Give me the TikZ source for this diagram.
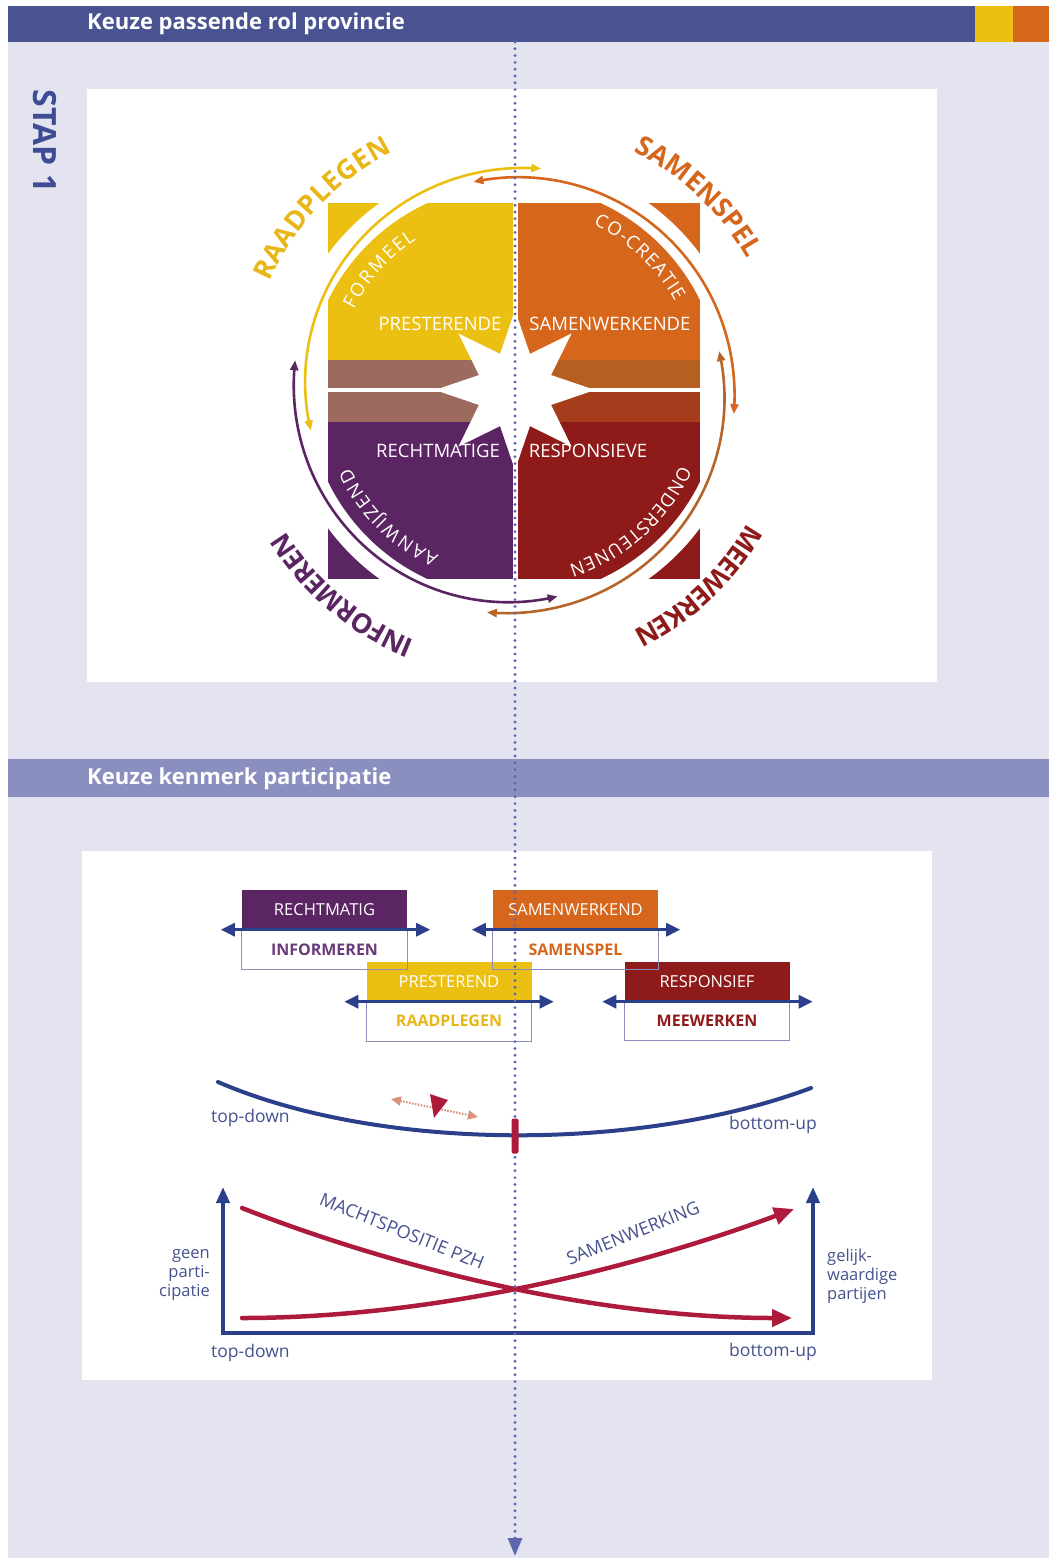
\documentclass[tikz,border=0pt]{standalone}
\usepackage{fontspec}
\setmainfont{Open Sans}
\usetikzlibrary{arrows.meta,shapes.geometric,decorations.text}
\definecolor{hdr}{HTML}{4A5392}
\definecolor{hdrtwo}{HTML}{8A8FC0}
\definecolor{lav}{HTML}{E4E4F1}
\definecolor{yc}{HTML}{ECC013}
\definecolor{ytxt}{HTML}{E8B717}
\definecolor{oc}{HTML}{D5661C}
\definecolor{pc}{HTML}{5B2563}
\definecolor{rc}{HTML}{8E1B1A}
\definecolor{bandl}{HTML}{9C6B5E}
\definecolor{bandru}{HTML}{B55F20}
\definecolor{bandrl}{HTML}{A53C1B}
\definecolor{brc}{HTML}{B5652A}
\definecolor{dotc}{HTML}{5E68AF}
\definecolor{navy}{HTML}{2B3F8A}
\definecolor{crim}{HTML}{AE1A3C}
\definecolor{lbl}{HTML}{45528F}
\definecolor{salm}{HTML}{D9917E}
\definecolor{boxline}{HTML}{8A8FC0}
\definecolor{infc}{HTML}{6B3A7A}
\definecolor{stapc}{HTML}{3D4C95}
\newcommand\arclabel[5]{%
  \path[decorate, decoration={text effects along path, text={#5},
     text effects/.cd, text along path, fit text to path, characters={inner sep=0pt, #4}}]
     ([shift={(514,-391)}]#2:#1) arc[start angle=#2, end angle=#3, radius=#1];}
\begin{document}
\begin{tikzpicture}[x=1pt,y=1pt,
  hdrtext/.style={text=white, font=\bfseries\fontsize{22}{22}\selectfont, anchor=west, inner sep=0pt},
  quadlbl/.style={text=white, font=\fontsize{18.5}{18.5}\selectfont, inner sep=0pt},
  arcarrow/.style={line width=2.6pt, {Triangle[length=10pt,width=8pt]}-{Triangle[length=10pt,width=8pt]}},
  topbox/.style={minimum width=165pt, minimum height=40pt, inner sep=0pt, text=white, font=\fontsize{16.5}{16.5}\selectfont},
  lowbox/.style={minimum width=165pt, minimum height=40pt, inner sep=0pt, fill=white, font=\bfseries\fontsize{16}{16}\selectfont},
  boxarrow/.style={navy, line width=3pt, {Triangle[length=14pt,width=13pt]}-{Triangle[length=14pt,width=13pt]}},
  axislbl/.style={text=lbl, font=\fontsize{17.5}{17.5}\selectfont, inner sep=0pt},
  sidelbl/.style={text=lbl, font=\fontsize{16.5}{19}\selectfont, inner sep=0pt},
  curvelbl/.style={text=lbl, font=\fontsize{18}{18}\selectfont, inner sep=0pt},
  redcurve/.style={crim, line width=4.5pt, line cap=round, -{Triangle[length=20pt,width=17pt]}}
]
\useasboundingbox (0,0) rectangle (1049,-1558);
\fill[white] (0,0) rectangle (1049,-1558);
\fill[lav] (8,-6) rectangle (1049,-1558);
% header 1
\fill[hdr] (8,-6) rectangle (975,-42);
\fill[yc] (975,-6) rectangle (1013,-42);
\fill[oc] (1013,-6) rectangle (1049,-42);
\node[hdrtext] (h1) at (87,-24) {Keuze passende rol provincie};
\node[text=stapc, font=\bfseries\fontsize{32}{32}\selectfont, rotate=-90, inner sep=0pt] (stap) at (45,-141) {STAP 1};
% panels
\fill[white] (87,-89) rectangle (937,-682);
\fill[hdrtwo] (8,-759) rectangle (1049,-797);
\node[hdrtext] (h2) at (87,-779) {Keuze kenmerk participatie};
\fill[white] (82,-851) rectangle (932,-1380);
% circle diagram
\begin{scope}
\clip (328,-203) rectangle (700,-579);
\fill[yc] (328,-203) rectangle (514,-360);
\fill[oc] (514,-203) rectangle (700,-360);
\fill[bandl] (328,-360) rectangle (514,-422);
\fill[bandru] (514,-360) rectangle (700,-390);
\fill[bandrl] (514,-390) rectangle (700,-422);
\fill[pc] (328,-422) rectangle (514,-579);
\fill[rc] (514,-422) rectangle (700,-579);
\fill[white] (328,-388) rectangle (700,-392);
\fill[white] (512.5,-203) rectangle (517.5,-579);
\end{scope}
\fill[white, even odd rule] (514,-391) circle (231) (514,-391) circle (207);
\node[star, star points=8, star point ratio=2.05, minimum size=160pt, inner sep=0pt, fill=white] (star) at (515,-390) {};
\node[quadlbl] (pres) at (440,-324) {PRESTERENDE};
\node[quadlbl] (samw) at (610,-324) {SAMENWERKENDE};
\node[quadlbl] (rech) at (438,-451) {RECHTMATIGE};
\node[quadlbl] (resp) at (588,-451) {RESPONSIEVE};
% arcs
\draw[arcarrow, yc] plot[domain=83:191, samples=60, variable=\a] ({514+(224-17*(\a-83)/108)*cos(\a)}, {-391+(224-17*(\a-83)/108)*sin(\a)});
\draw[arcarrow, oc] plot[domain=-6:101, samples=60, variable=\a] ({514+(221-8*(\a+6)/107)*cos(\a)}, {-391+(221-8*(\a+6)/107)*sin(\a)});
\draw[arcarrow, brc] plot[domain=-97:11, samples=60, variable=\a] ({514+(223-14*(\a+97)/108)*cos(\a)}, {-391+(223-14*(\a+97)/108)*sin(\a)});
\draw[arcarrow, pc] plot[domain=172:282, samples=60, variable=\a] ({514+(221-11*(\a-172)/110)*cos(\a)}, {-391+(221-11*(\a-172)/110)*sin(\a)});
% arc texts
\arclabel{268}{156}{117}{text=ytxt, font=\bfseries\fontsize{27}{27}\selectfont}{RAADPLEGEN}
\arclabel{268}{63.5}{29.5}{text=oc, font=\bfseries\fontsize{27}{27}\selectfont}{SAMENSPEL}
\arclabel{268}{-29.5}{-63.7}{text=rc, font=\bfseries\fontsize{27}{27}\selectfont}{MEEWERKEN}
\arclabel{268}{248.3}{211.5}{text=pc, font=\bfseries\fontsize{27}{27}\selectfont}{INFORMEREN}
\arclabel{180}{153}{123}{text=white, font=\fontsize{18.5}{18.5}\selectfont}{FORMEEL}
\arclabel{184}{64.5}{29}{text=white, font=\fontsize{18.5}{18.5}\selectfont}{CO-CREATIE}
\arclabel{181}{245.5}{205}{text=white, font=\fontsize{18.5}{18.5}\selectfont}{AANWIJZEND}
\arclabel{182}{-24}{-72.5}{text=white, font=\fontsize{18.5}{18.5}\selectfont}{ONDERSTEUNEN}
% boxes panel 2
\node[lowbox, text=infc] (infB) at (324.5,-949.5) {INFORMEREN};
\node[lowbox, text=oc] (sspB) at (575.5,-949.5) {SAMENSPEL};
\node[lowbox, text=ytxt] (rdpB) at (449,-1021) {RAADPLEGEN};
\node[lowbox, text=rc] (mewB) at (707,-1020.5) {MEEWERKEN};
\node[topbox, fill=pc] (recB) at (324.5,-909.5) {RECHTMATIG};
\node[topbox, fill=oc] (smwB) at (575.5,-909.5) {SAMENWERKEND};
\node[topbox, fill=yc] (prsB) at (449,-981.5) {PRESTEREND};
\node[topbox, fill=rc] (rspB) at (707,-981.5) {RESPONSIEF};
\foreach \b in {infB,sspB,rdpB,mewB}
  \draw[boxline, line width=1.2pt] (\b.north west) rectangle (\b.south east);
\draw[boxarrow] ([xshift=-21pt]recB.south west) -- ([xshift=23pt]recB.south east);
\draw[boxarrow] ([xshift=-21pt]smwB.south west) -- ([xshift=22pt]smwB.south east);
\draw[boxarrow] ([xshift=-22pt]prsB.south west) -- ([xshift=22pt]prsB.south east);
\draw[boxarrow] ([xshift=-22pt]rspB.south west) -- ([xshift=23pt]rspB.south east);
% top-down / bottom-up curve
\coordinate (tdA) at (218,-1082);
\coordinate (buA) at (811,-1088);
\draw[navy, line width=4pt, line cap=round] (tdA) .. controls (380,-1152) and (640,-1152) .. (buA);
\coordinate (salA) at (391,-1099);
\coordinate (salB) at (478,-1117);
\draw[salm, line width=2.2pt, dash pattern=on 1.5pt off 1.5pt, {Triangle[length=10pt,width=9pt]}-{Triangle[length=10pt,width=9pt]}] (salA) -- (salB);
\fill[crim] (430,-1094) -- (448,-1100) -- (434,-1118) -- cycle;
\node[axislbl, anchor=west] (td1) at (211,-1118) {top-down};
\node[axislbl, anchor=east] (bu1) at (817,-1125) {bottom-up};
% axes diagram
\coordinate (axL) at (223,-1187);
\coordinate (ax0) at (223,-1333);
\coordinate (ax1) at (813,-1333);
\coordinate (axR) at (813,-1187);
\draw[navy, line width=4pt, {Triangle[length=16pt,width=13pt]}-{Triangle[length=16pt,width=13pt]}] (axL) -- (ax0) -- (ax1) -- (axR);
\coordinate (mA) at (242,-1208);
\coordinate (mB) at (792,-1318);
\coordinate (sA) at (242,-1318);
\coordinate (sB) at (794,-1209);
\draw[redcurve] (mA) .. controls (400,-1270) and (600,-1318) .. (mB);
\draw[redcurve] (sA) .. controls (430,-1318) and (630,-1270) .. (sB);
\node[curvelbl, rotate=-22] (mpz) at (402,-1231) {MACHTSPOSITIE PZH};
\node[curvelbl, rotate=22] (smw) at (633,-1233) {SAMENWERKING};
\node[sidelbl, align=right, anchor=east] (geen) at (210,-1275) {geen\\parti-\\cipatie};
\node[sidelbl, align=left, anchor=west] (gel) at (827,-1276) {gelijk-\\waardige\\partijen};
\node[axislbl, anchor=west] (td2) at (211,-1353) {top-down};
\node[axislbl, anchor=east] (bu2) at (817,-1352) {bottom-up};
% dotted center line
\coordinate (dtop) at (515,-42);
\coordinate (dbot) at (515,-1556);
\draw[dotc, line width=3.2pt, dash pattern=on 0pt off 6.8pt, line cap=round, -{Triangle[length=18pt,width=14pt]}] (dtop) -- (dbot);
\node[fill=crim, minimum width=7pt, minimum height=35pt, inner sep=0pt, rounded corners=2pt] (mark) at (515,-1136) {};
\end{tikzpicture}
\end{document}
